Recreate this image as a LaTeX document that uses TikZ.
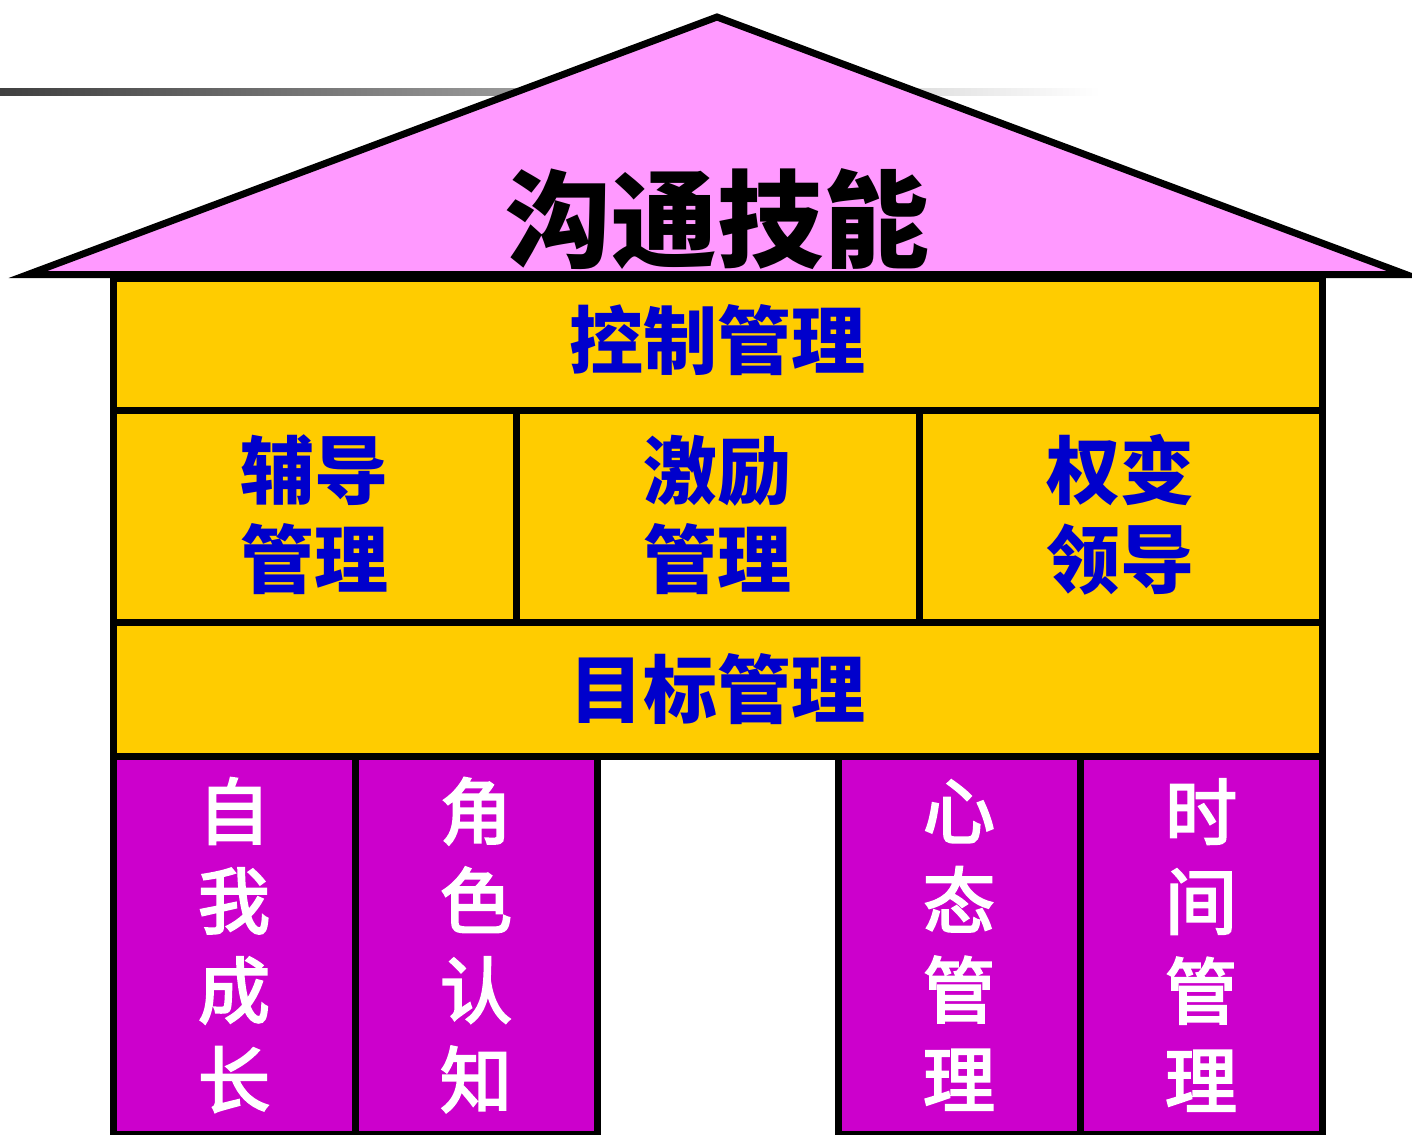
\documentclass[tikz,border=0pt]{standalone}
\usepackage{fontspec}
\newfontfamily\cjk{Noto Sans CJK SC}
\newfontfamily\cjkmed[FakeBold=3]{Noto Sans CJK SC}
\definecolor{roofpink}{HTML}{FF99FF}
\definecolor{boxyellow}{HTML}{FFCC00}
\definecolor{pillar}{HTML}{CC00CC}
\definecolor{textblue}{HTML}{0000CC}
\tikzset{
  frame/.style={draw=black, line width=7pt},
  beam/.style={frame, fill=boxyellow},
  pillarbox/.style={frame, fill=pillar},
  titletext/.style={font=\cjk\bfseries\fontsize{106}{106}\selectfont, text=black, inner sep=0pt},
  bluetext/.style={font=\cjk\bfseries\fontsize{74}{89}\selectfont, text=textblue, align=center, inner sep=0pt},
  whitetext/.style={font=\cjkmed\fontsize{72}{89.5}\selectfont, text=white, align=center, inner sep=0pt}
}
\begin{document}
\begin{tikzpicture}[x=1pt,y=-1pt]
\useasboundingbox (0,0) rectangle (1412,1134);
% gradient rule
\shade[left color=black!75, right color=white] (0,89) rectangle (1100,96);
% roof
\draw[frame, fill=roofpink] (28,274.5) -- (717,17) -- (1406,274.5) -- cycle;
% beams
\draw[beam] (113,278) rectangle (1322,410);
\draw[beam] (113,410) rectangle (516,622.5);
\draw[beam] (516,410) rectangle (919,622.5);
\draw[beam] (919,410) rectangle (1322,622.5);
\draw[beam] (113,622.5) rectangle (1322,756);
% pillars
\draw[pillarbox] (113,756) rectangle (355,1134);
\draw[pillarbox] (355,756) rectangle (597,1134);
\draw[pillarbox] (838,756) rectangle (1080,1134);
\draw[pillarbox] (1080,756) rectangle (1322,1134);
% texts
\node[titletext] (title) at (717,219) {沟通技能};
\node[bluetext] (control) at (717,340) {控制管理};
\node[bluetext] (coach) at (314.5,515) {辅导\\管理};
\node[bluetext] (motive) at (717.5,515) {激励\\管理};
\node[bluetext] (lead) at (1120.5,515) {权变\\领导};
\node[bluetext] (goal) at (717,689) {目标管理};
\node[whitetext] (self) at (234,945) {自\\我\\成\\长};
\node[whitetext] (role) at (476,945) {角\\色\\认\\知};
\node[whitetext] (mind) at (959,945) {心\\态\\管\\理};
\node[whitetext] (time) at (1201,945) {时\\间\\管\\理};
\end{tikzpicture}
\end{document}
